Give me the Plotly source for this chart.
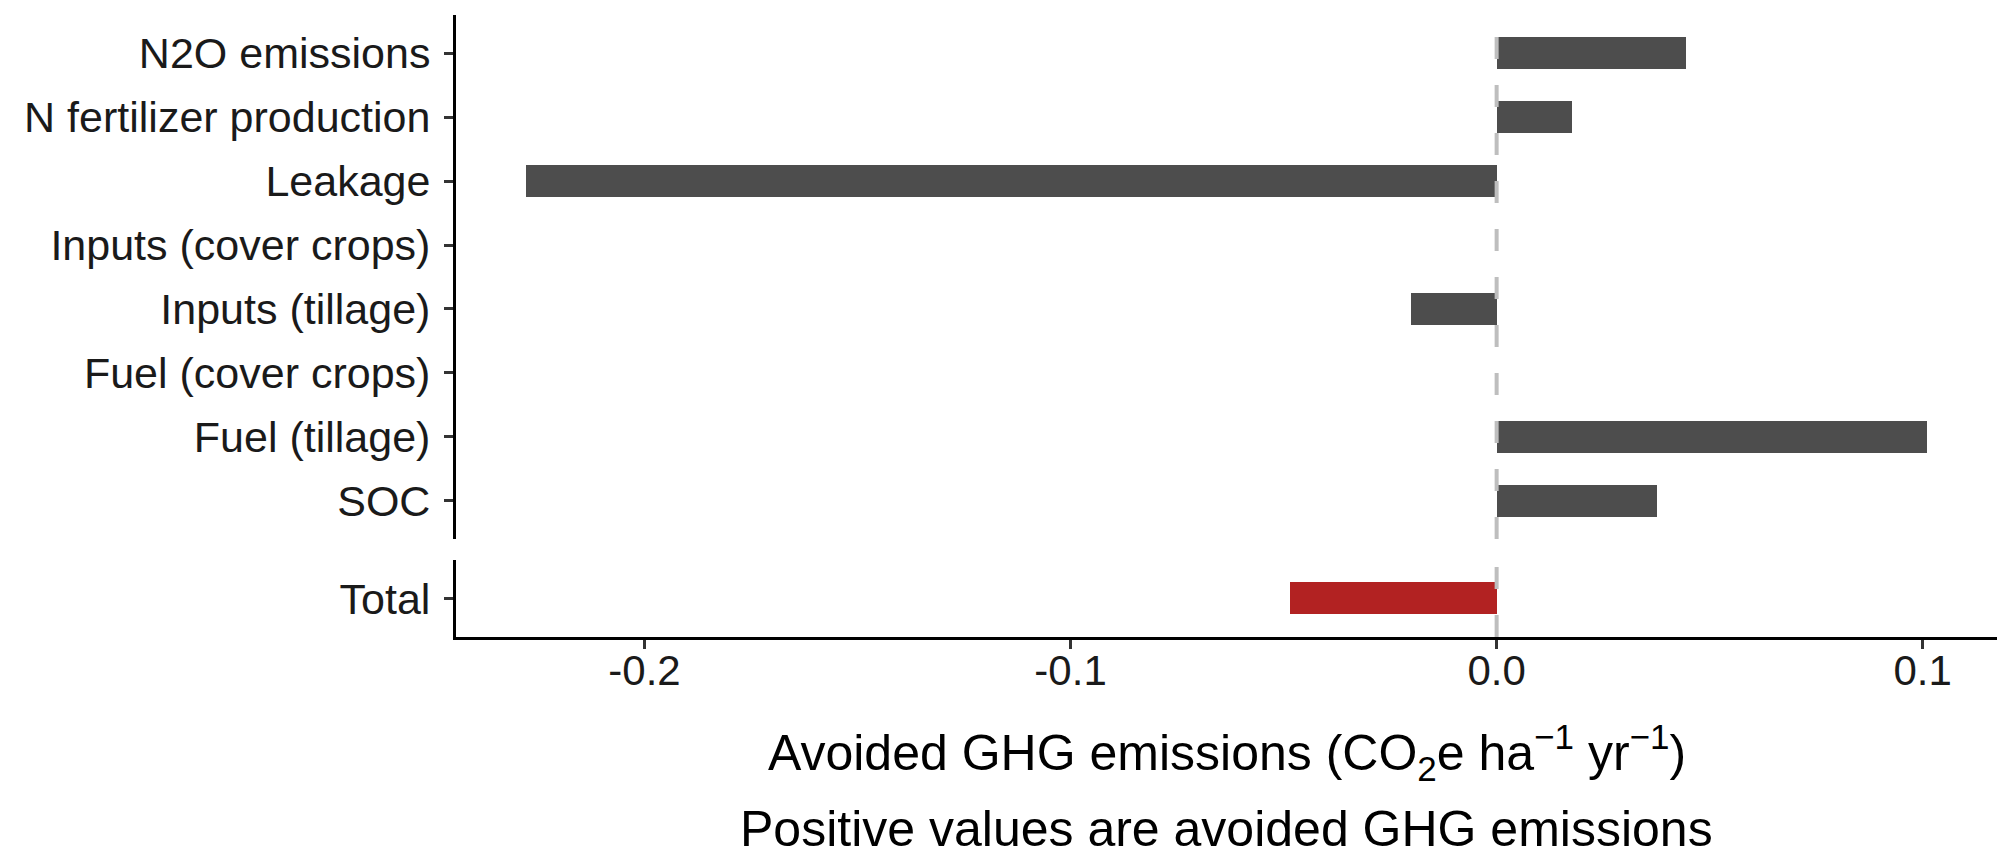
import plotly.graph_objects as go

# Component contributions (top panel, listed top to bottom)
components = [
    "N2O emissions",
    "N fertilizer production",
    "Leakage",
    "Inputs (cover crops)",
    "Inputs (tillage)",
    "Fuel (cover crops)",
    "Fuel (tillage)",
    "SOC",
]
component_values = [0.0444, 0.0176, -0.2278, 0.0, -0.0200, 0.0, 0.1010, 0.0376]

# Net total (bottom panel)
total_label = ["Total"]
total_value = [-0.0484]

x_ticks = [-0.2, -0.1, 0.0, 0.1]
x_ticklabels = ["-0.2", "-0.1", "0.0", "0.1"]

BAR_GREY = "#4D4D4D"
TOTAL_RED = "#B22222"
FONT = "Liberation Sans, Arial, Helvetica, sans-serif"

# x range with 5% padding around the data, as in ggplot
all_vals = component_values + total_value
lo, hi = min(all_vals), max(all_vals)
pad = 0.05 * (hi - lo)
x_range = [lo - pad, hi + pad]

W, H = 1997, 848
# panel extents in pixels (from top)
top_panel = (15.0, 539.0)
bot_panel = (560.3, 637.0)


def dom(p):
    return [1 - p[1] / H, 1 - p[0] / H]


fig = go.Figure()

fig.add_trace(go.Bar(
    x=component_values, y=components, orientation="h",
    marker=dict(color=BAR_GREY, line=dict(width=0)),
    width=0.5, xaxis="x", yaxis="y", showlegend=False,
))
fig.add_trace(go.Bar(
    x=total_value, y=total_label, orientation="h",
    marker=dict(color=TOTAL_RED, line=dict(width=0)),
    width=0.5, xaxis="x", yaxis="y2", showlegend=False,
))

axis_common = dict(
    showgrid=False, zeroline=False, showline=True,
    linecolor="black", linewidth=3,
    ticks="outside", ticklen=9, tickwidth=3, tickcolor="#333333",
)
y_font = dict(family=FONT, size=43, color="#1a1a1a")
x_font = dict(family=FONT, size=42, color="#1a1a1a")

fig.update_layout(
    width=W, height=H,
    margin=dict(l=456, r=0, t=0, b=0),
    paper_bgcolor="white", plot_bgcolor="white",
    bargap=0,
    xaxis=dict(
        axis_common, domain=[0, 1], range=x_range, anchor="y2",
        tickvals=x_ticks, ticktext=x_ticklabels,
        tickfont=x_font, ticklabelstandoff=-14,
    ),
    yaxis=dict(
        axis_common, domain=dom(top_panel), anchor="x",
        type="category", categoryorder="array", categoryarray=components,
        range=[len(components) - 0.4, -0.6],
        tickfont=y_font, ticklabelstandoff=5,
    ),
    yaxis2=dict(
        axis_common, domain=dom(bot_panel), anchor="x",
        type="category", range=[0.6, -0.6],
        tickfont=y_font, ticklabelstandoff=5,
    ),
)

# dashed reference line at zero in both panels
for yref in ("y domain", "y2 domain"):
    fig.add_shape(
        type="line", xref="x", yref=yref, x0=0, x1=0, y0=0, y1=1,
        line=dict(color="#bebebe", width=4, dash="22px,26px"),
        layer="above",
    )

fig.add_annotation(
    text="Avoided GHG emissions (CO<sub>2</sub>e ha<sup>\u22121</sup> yr<sup>\u22121</sup>)",
    xref="paper", yref="paper", x=0.5, y=1 - 752 / H,
    xanchor="center", yanchor="middle", showarrow=False,
    font=dict(family=FONT, size=50, color="black"),
)
fig.add_annotation(
    text="Positive values are avoided GHG emissions",
    xref="paper", yref="paper", x=0.5, y=1 - 829 / H,
    xanchor="center", yanchor="middle", showarrow=False,
    font=dict(family=FONT, size=50, color="black"),
)

fig.write_html("out.html")
